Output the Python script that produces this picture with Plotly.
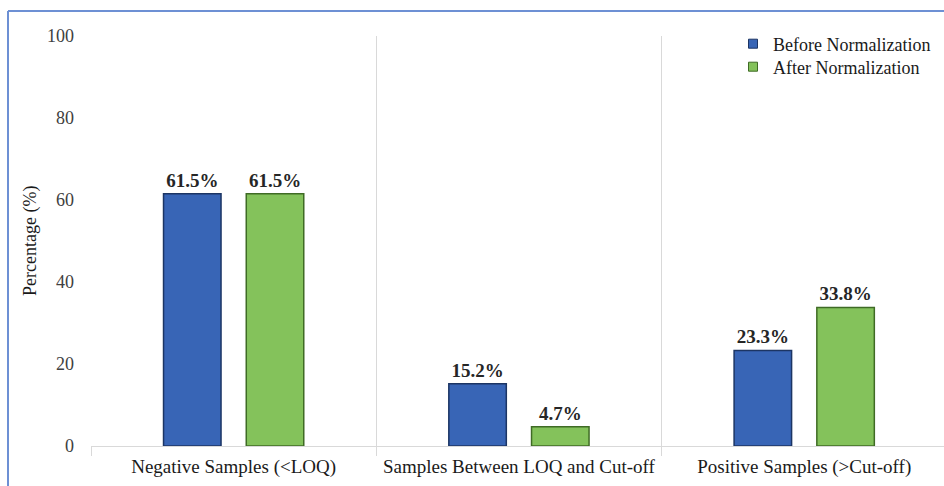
import plotly.graph_objects as go

categories = ["Negative Samples (<LOQ)", "Samples Between LOQ and Cut-off", "Positive Samples (>Cut-off)"]
before_vals = [61.5, 15.2, 23.3]
after_vals = [61.5, 4.7, 33.8]
series_names = ["Before Normalization", "After Normalization"]
y_ticks = [0, 20, 40, 60, 80, 100]

FONT = "Liberation Serif, Times New Roman, serif"
W, H = 944, 486
L, R, T, B = 91, 0, 36, 40
pw = W - L - R
ph = H - T - B

BLUE, BLUE_EDGE = "#3865b6", "#1c3564"
GREEN, GREEN_EDGE = "#84c25b", "#3f6b25"

fig = go.Figure()
fig.add_trace(go.Bar(
    x=categories, y=before_vals, name=series_names[0], showlegend=False,
    marker=dict(color=BLUE, line=dict(color=BLUE_EDGE, width=1.5)),
    text=[f"{v}%" for v in before_vals], textposition="outside",
    textfont=dict(family=FONT, size=19, color="#262626", weight="bold"),
    cliponaxis=False,
))
fig.add_trace(go.Bar(
    x=categories, y=after_vals, name=series_names[1], showlegend=False,
    marker=dict(color=GREEN, line=dict(color=GREEN_EDGE, width=1.5)),
    text=[f"{v}%" for v in after_vals], textposition="outside",
    textfont=dict(family=FONT, size=19, color="#262626", weight="bold"),
    cliponaxis=False,
))
# legend entries (small square icons)
for name, col, edge, lg in [(series_names[0], BLUE, BLUE_EDGE, "legend"),
                            (series_names[1], GREEN, GREEN_EDGE, "legend2")]:
    fig.add_trace(go.Scatter(
        x=[None], y=[None], mode="markers", name=name, legend=lg,
        marker=dict(symbol="square", size=9, color=col, line=dict(color=edge, width=1)),
    ))

leg_common = dict(xanchor="left", yanchor="middle", bgcolor="rgba(0,0,0,0)",
                  itemwidth=30, font=dict(family=FONT, size=18, color="#1a1a1a"))

fig.update_layout(
    width=W, height=H,
    margin=dict(l=L, r=R, t=T, b=B, autoexpand=False),
    paper_bgcolor="white", plot_bgcolor="white",
    barmode="group", bargap=0.42, bargroupgap=0.305,
    font=dict(family=FONT, size=19, color="#1a1a1a"),
    showlegend=True,
    legend=dict(x=(733 - L) / pw, y=(446 - 44) / ph, **leg_common),
    legend2=dict(x=(733 - L) / pw, y=(446 - 67) / ph, **leg_common),
    xaxis=dict(
        type="category", range=[-0.5, 2.49],
        tickson="boundaries", showgrid=True, gridcolor="#d9d9d9", gridwidth=1,
        ticks="outside", ticklen=9, tickcolor="#d9d9d9",
        showline=True, linecolor="#d9d9d9", linewidth=1,
        tickfont=dict(family=FONT, size=19, color="#1a1a1a"),
        ticklabelstandoff=3,
        zeroline=False, fixedrange=True,
    ),
    yaxis=dict(
        range=[0, 100], tickvals=y_ticks, showgrid=False, zeroline=False,
        showline=False, ticks="", ticklabelstandoff=16,
        tickfont=dict(family=FONT, size=18, color="#404040"),
    ),
    annotations=[dict(
        text="Percentage (%)", textangle=-90, xref="paper", yref="paper",
        x=(30 - L) / pw, y=0.5, xanchor="center", yanchor="middle", showarrow=False,
        font=dict(family=FONT, size=18, color="#1a1a1a"),
    )],
    shapes=[
        dict(type="line", xref="paper", yref="paper",
             x0=(8 - L) / pw, x1=(8 - L) / pw, y0=(446 - 11) / ph, y1=-(B + 2) / ph,
             line=dict(color="#6d90d4", width=2)),
        dict(type="line", xref="paper", yref="paper",
             x0=(8 - L) / pw, x1=(W + 2 - L) / pw, y0=(446 - 11) / ph, y1=(446 - 11) / ph,
             line=dict(color="#6d90d4", width=2)),
    ],
)

fig.write_html("out.html")
